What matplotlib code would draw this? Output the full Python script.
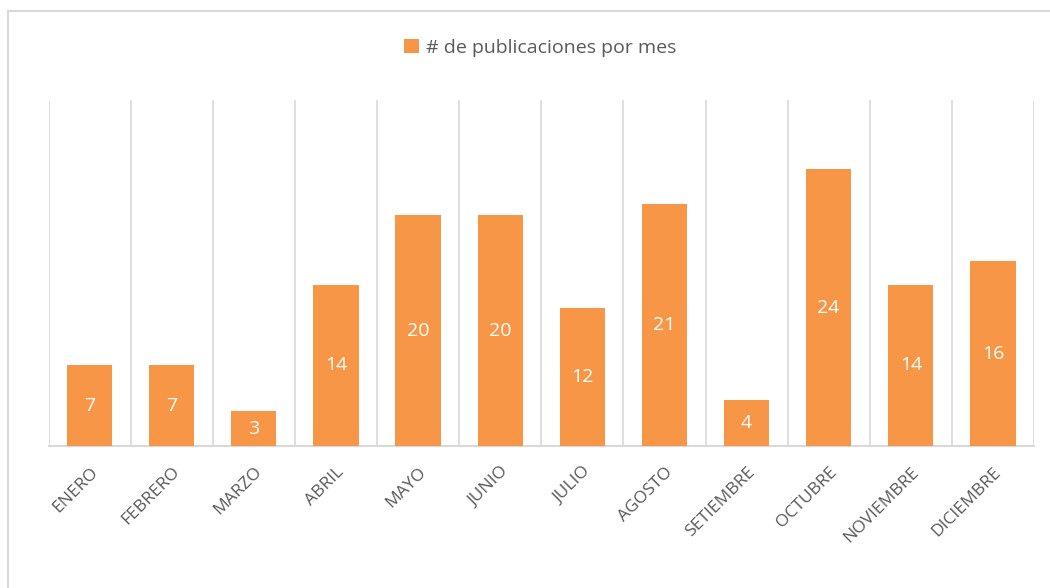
import matplotlib
matplotlib.use('Agg')
import matplotlib.pyplot as plt
from matplotlib.patches import Rectangle
import numpy as np

meses = ['ENERO', 'FEBRERO', 'MARZO', 'ABRIL', 'MAYO', 'JUNIO', 'JULIO',
         'AGOSTO', 'SETIEMBRE', 'OCTUBRE', 'NOVIEMBRE', 'DICIEMBRE']
publicaciones = [7, 7, 3, 14, 20, 20, 12, 21, 4, 24, 14, 16]
serie = '# de publicaciones por mes'

naranja = '#F79646'
gris_texto = '#595959'
gris_linea = '#D9D9D9'

plt.rcParams['font.family'] = ['Open Sans', 'DejaVu Sans']

W, H = 1050, 588
fig = plt.figure(figsize=(W / 100, H / 100), dpi=100)

# borde del grafico (cortado a derecha y abajo)
fig.patches.append(Rectangle((7.5 / W, -0.1), 1.2, 1 - 10.5 / H + 0.1,
                             transform=fig.transFigure, fill=False,
                             edgecolor=gris_linea, linewidth=1.5))

ax = fig.add_axes([48.5 / W, (H - 446) / H, (1034 - 48.5) / W, (446 - 100) / H])
x = np.arange(len(meses))
bars = ax.bar(x, publicaciones, width=0.55, color=naranja, label=serie, zorder=3)

ax.set_xlim(-0.5, len(meses) - 0.5)
ax.set_ylim(0, 30)
ax.set_yticks([])

# lineas verticales entre categorias
for b in np.arange(-0.5, len(meses), 1.0):
    ax.axvline(b, color=gris_linea, linewidth=1.2, zorder=1)

for s in ['top', 'right', 'left']:
    ax.spines[s].set_visible(False)
ax.spines['bottom'].set_color(gris_linea)
ax.spines['bottom'].set_linewidth(1.5)

ax.set_xticks(x)
ax.set_xticklabels(meses, rotation=45, ha='right', rotation_mode='anchor',
                   fontsize=12.5, color=gris_texto)
ax.tick_params(axis='x', length=0, pad=13)

for rect, v in zip(bars, publicaciones):
    ax.text(rect.get_x() + rect.get_width() / 2, v / 2, str(v),
            ha='center', va='center', color='white', fontsize=14, zorder=4)

leg = fig.legend(loc='center', bbox_to_anchor=(540 / W, 1 - 48 / H),
                 frameon=False, fontsize=14, handlelength=0.75, handleheight=0.75,
                 handletextpad=0.35, labelcolor=gris_texto)

fig.savefig('out.png', dpi=100)
